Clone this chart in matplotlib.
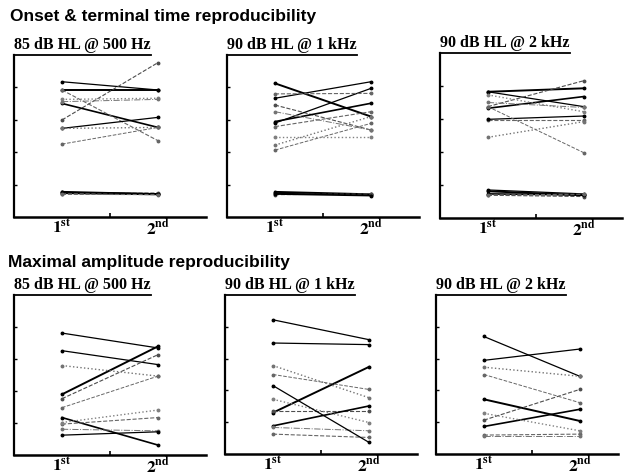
import matplotlib
matplotlib.use("Agg")
import matplotlib.pyplot as plt
from matplotlib.lines import Line2D

plt.rcParams['mathtext.fontset'] = 'stix'

# ------------------------------------------
# data: (1st session, 2nd session) for each subject, 0-100 of panel height
# ------------------------------------------
onset_500 = [(83.5, 78.4), (78.4, 78.4), (59.9, 95.3), (70.1, 55.3), (78.4, 47.1),
             (54.7, 61.5), (54.7, 55.3), (45.0, 55.3), (72.6, 73.3), (71.2, 72.6),
             (15.2, 14.4), (14.8, 14.0), (14.4, 14.8), (15.6, 14.2), (14.0, 13.8)]
onset_1k = [(73.3, 83.5), (82.5, 62.0), (69.1, 53.7), (58.9, 70.2), (55.8, 65.0),
            (58.0, 79.4), (44.4, 62.0), (41.3, 57.8), (49.6, 49.6), (65.0, 53.7),
            (14.6, 13.6), (15.5, 14.0), (13.8, 14.2), (14.2, 13.2), (76.0, 76.3)]
onset_2k = [(76.5, 67.5), (76.5, 78.6), (67.5, 83.2), (66.5, 73.6), (59.4, 59.4),
            (59.8, 61.8), (48.9, 58.4), (67.5, 39.6), (74.6, 64.4), (70.0, 67.0),
            (17.0, 14.6), (16.2, 13.8), (13.8, 13.0), (14.6, 14.0), (14.0, 14.4)]

amp_500 = [(65.2, 56.5), (37.9, 67.9), (35.2, 62.7), (23.4, 6.2), (19.3, 23.4),
           (76.2, 66.9), (55.9, 49.3), (29.6, 49.3), (20.3, 28.1), (16.1, 15.1),
           (12.4, 14.5)]
amp_1k = [(69.8, 68.8), (26.0, 54.8), (27.0, 27.0), (17.7, 30.2), (12.5, 10.4),
          (84.4, 71.9), (55.6, 35.4), (50.0, 40.6), (34.4, 19.8), (16.7, 14.6),
          (43.0, 7.3)]
amp_2k = [(58.9, 66.0), (34.4, 20.8), (21.3, 40.6), (17.3, 28.1), (11.9, 12.5),
          (73.9, 48.9), (54.6, 48.9), (50.0, 32.3), (25.6, 14.6), (11.2, 11.2)]

panel_titles = ["85 dB HL @ 500 Hz", "90 dB HL @ 1 kHz", "90 dB HL @ 2 kHz"]
row_titles = ["Onset & terminal time reproducibility", "Maximal amplitude reproducibility"]
session_labels = [r'$\mathbf{1^{st}}$', r'$\mathbf{2^{nd}}$']

# line looks, cycled over subjects
styles = [('-', 'k', 0.9), ('-', 'k', 1.4), ('--', '0.3', 0.8), ('-', 'k', 1.2),
          ('--', '0.4', 0.8), ('-', 'k', 0.9), (':', '0.45', 1.0), ('--', '0.4', 0.7),
          (':', '0.5', 1.0), ('-.', '0.45', 0.7)]

W, H = 624, 476
fig = plt.figure(figsize=(W / 100, H / 100), dpi=100)


def px_axes(left, top, right, bottom):
    return fig.add_axes([left / W, 1 - bottom / H, (right - left) / W, (bottom - top) / H])


def draw_panel(ax, pairs, title, xmax):
    for i, (a, b) in enumerate(pairs):
        ls, col, lw = styles[i % len(styles)]
        ax.plot([1, 2], [a, b], linestyle=ls, color=col, linewidth=lw,
                marker='o', markersize=1.8, markerfacecolor=col, markeredgecolor=col)
    ax.set_xlim(0.5, xmax)
    ax.set_ylim(0, 100)
    for s in ['top', 'right']:
        ax.spines[s].set_visible(False)
    ax.spines['left'].set_linewidth(1.6)
    ax.spines['bottom'].set_linewidth(1.8)
    ax.set_xticks([1, 2])
    ax.set_xticklabels(session_labels, fontsize=12.5)
    ax.tick_params(axis='x', length=0, pad=1)
    ax.set_xticks([1.5], minor=True)
    ax.tick_params(axis='x', which='minor', direction='in', length=3, width=1.2)
    ax.set_yticks([20, 40, 60, 80])
    ax.set_yticklabels([])
    ax.tick_params(axis='y', direction='in', length=2.5, width=1.0)
    t = ax.text(0.0, 1.012, title, transform=ax.transAxes, ha='left', va='bottom',
                fontsize=11.5, fontweight='bold', family='Liberation Serif')
    return t


top_axes = [px_axes(14, 55, 206, 217), px_axes(227, 55, 419, 217), px_axes(440, 53, 622, 218)]
bot_axes = [px_axes(14, 295, 206, 455), px_axes(225, 295, 417, 454), px_axes(436, 295, 618, 454)]

titles = []
for ax, data, ttl, xm in zip(top_axes, [onset_500, onset_1k, onset_2k], panel_titles, [2.5, 2.5, 2.4]):
    titles.append((ax, draw_panel(ax, data, ttl, xm)))
for ax, data, ttl, xm in zip(bot_axes, [amp_500, amp_1k, amp_2k], panel_titles, [2.5, 2.5, 2.4]):
    titles.append((ax, draw_panel(ax, data, ttl, xm)))

fig.text(10 / W, 1 - 17 / H, row_titles[0], fontsize=12.5, fontweight='bold',
         family='Liberation Sans', ha='left', va='center')
fig.text(8 / W, 1 - 262 / H, row_titles[1], fontsize=12.5, fontweight='bold',
         family='Liberation Sans', ha='left', va='center')

# underline the panel titles
fig.canvas.draw()
renderer = fig.canvas.get_renderer()
for ax, t in titles:
    bb = t.get_window_extent(renderer).transformed(ax.transAxes.inverted())
    ax.add_line(Line2D([0, bb.x1], [1.0, 1.0], transform=ax.transAxes,
                       color='k', linewidth=1.3, clip_on=False))

fig.savefig("out.png", dpi=100)
